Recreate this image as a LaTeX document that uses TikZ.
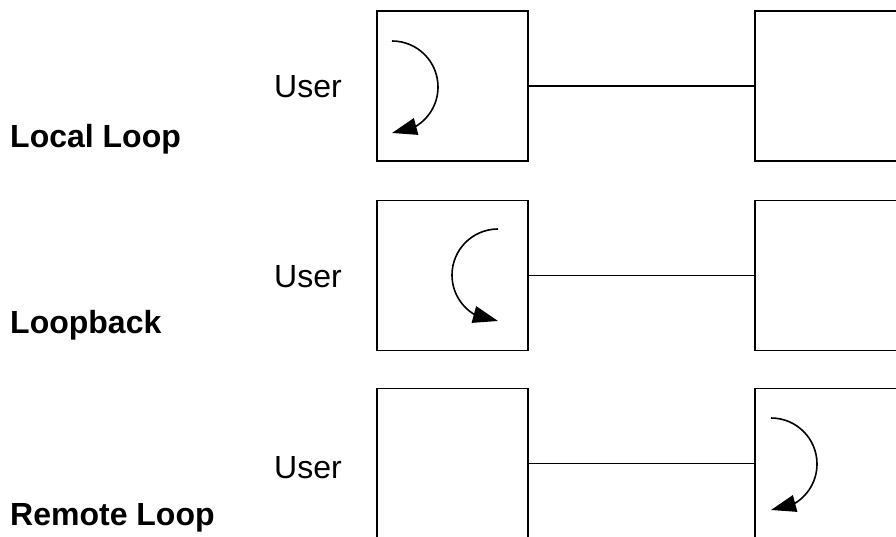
\documentclass[tikz,border=0pt]{standalone}
\usepackage{fontspec}
\setmainfont{Liberation Sans}
\usetikzlibrary{arrows.meta,bending}
\begin{document}
\begin{tikzpicture}[x=1pt,y=1pt,
  box/.style={draw=black,line width=1.8pt,minimum width=151pt,minimum height=150pt,inner sep=0pt,outer sep=0pt,fill=white},
  link/.style={draw=black,line width=1.4pt},
  turn/.style={draw=black,line width=1.6pt,-{Triangle[length=25pt,width=17pt,flex]}},
  usertext/.style={anchor=base west,inner sep=0pt,font=\fontsize{32}{38}\selectfont},
  modetext/.style={anchor=base west,inner sep=0pt,font=\fontsize{32}{38}\selectfont\bfseries}]
\useasboundingbox (0,0) rectangle (896,536);
\clip (0,0) rectangle (896,536);
% row 1
\node[box] (L1) at (452.5,450) {};
\node[box] (R1) at (830.5,450) {};
\draw[link] (L1.east) -- (R1.west);
\coordinate (s1) at (392,495);
\draw[turn] (s1) arc[start angle=90,end angle=-90,radius=46];
\node[usertext] (u1) at (274,438) {User};
\node[modetext] (m1) at (10,388) {Local Loop};
% row 2
\node[box] (L2) at (452.5,260.5) {};
\node[box] (R2) at (830.5,260.5) {};
\draw[link] (L2.east) -- (R2.west);
\coordinate (s2) at (498,307);
\draw[turn] (s2) arc[start angle=90,end angle=270,radius=46];
\node[usertext] (u2) at (274,248) {User};
\node[modetext] (m2) at (10,203) {Loopback};
% row 3
\node[box] (L3) at (452.5,72.5) {};
\node[box] (R3) at (830.5,72.5) {};
\draw[link] (L3.east) -- (R3.west);
\coordinate (s3) at (771,118);
\draw[turn] (s3) arc[start angle=90,end angle=-90,radius=46];
\node[usertext] (u3) at (274,58) {User};
\node[modetext] (m3) at (10,11) {Remote Loop};
\end{tikzpicture}
\end{document}
